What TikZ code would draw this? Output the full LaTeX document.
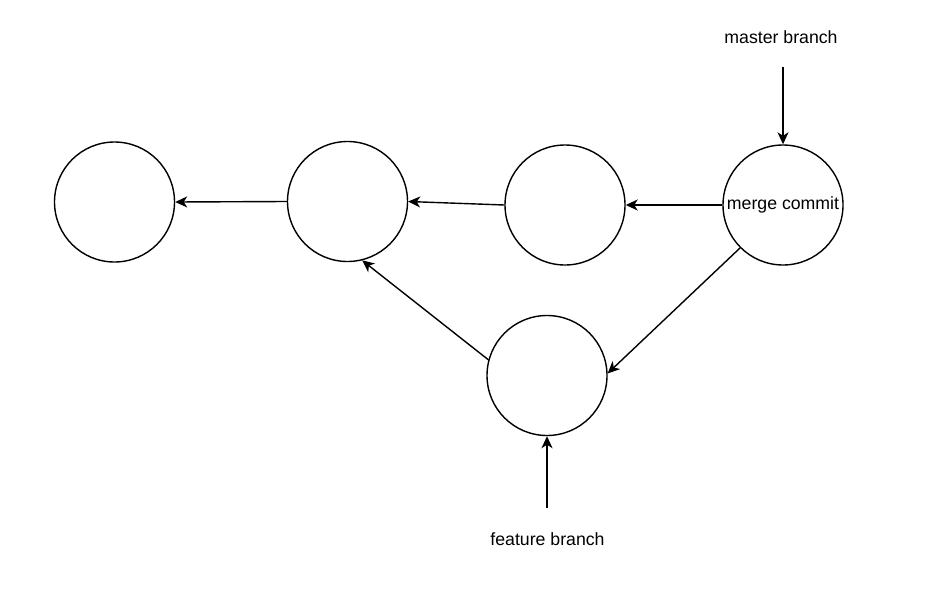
\documentclass[tikz,border=0pt]{standalone}
\usepackage{fontspec}
\setmainfont{Liberation Sans}
\usetikzlibrary{arrows.meta}
\begin{document}
\begin{tikzpicture}[x=1pt,y=-1pt,
  commit/.style={draw=black,circle,line width=1.4pt,minimum size=120pt,inner sep=0pt,font=\fontsize{17.7}{20}\selectfont},
  lbl/.style={font=\fontsize{17.7}{20}\selectfont,inner sep=0pt},
  conn/.style={draw=black,line width=1.4pt,-{Stealth[length=12pt,width=11pt,inset=3.5pt]}}]
\useasboundingbox (0,0) rectangle (944,594);
\node[commit] (c1) at (114.5,202) {};
\node[commit] (c2) at (347.5,201.5) {};
\node[commit] (c3) at (565,205) {};
\node[commit] (c4) at (783,205) {merge commit};
\node[commit] (c5) at (547,375.5) {};
\node[lbl] (master) at (781,37) {master branch};
\node[lbl] (feature) at (547.5,539) {feature branch};
\coordinate (ms) at (783,67);
\coordinate (fs) at (547,508);
\draw[conn] (ms) -- (c4.north);
\draw[conn] (fs) -- (c5.south);
\draw[conn] (c2.west) -- (c1.east);
\draw[conn] (c3.west) -- (c2.east);
\draw[conn] (c4.west) -- (c3.east);
\draw[conn] (c4.225) -- (c5.2);
\draw[conn] (c5.165.5) -- (c2.-76);
\end{tikzpicture}
\end{document}
